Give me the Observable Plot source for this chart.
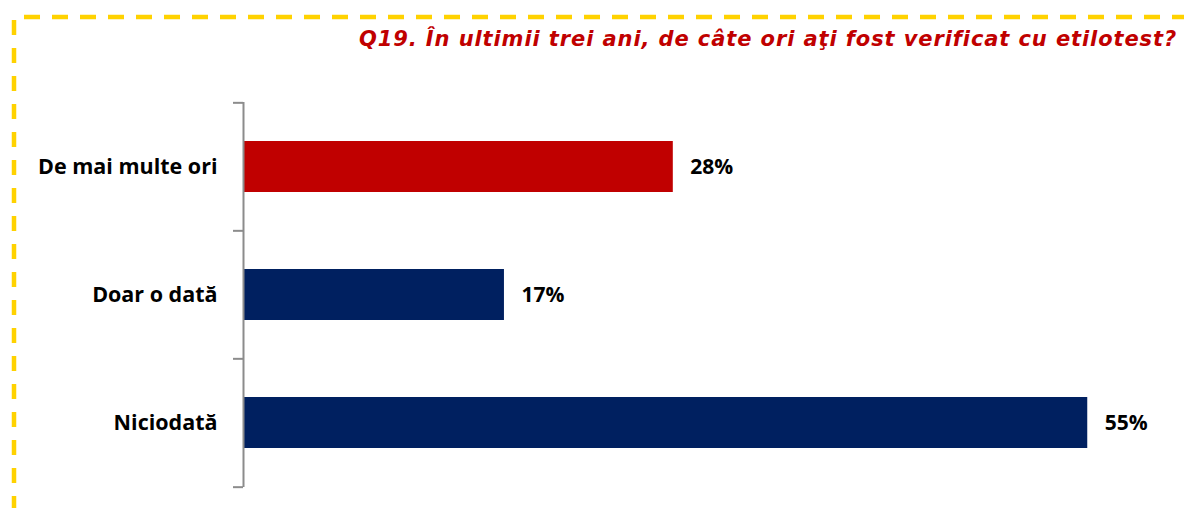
<!DOCTYPE html>
<html>
<head>
<meta charset="utf-8">
<script src="https://cdn.jsdelivr.net/npm/d3@7"></script>
<script src="https://cdn.jsdelivr.net/npm/@observablehq/plot@0.6"></script>
<style>
  html, body { margin: 0; padding: 0; background: #fff; }
  #wrap { position: relative; width: 1184px; height: 508px; overflow: hidden; }
  #title {
    position: absolute; top: 29px; left: 359px; white-space: nowrap; line-height: 1;
    font-family: "DejaVu Sans", sans-serif; font-style: oblique; font-weight: bold;
    font-size: 21px; letter-spacing: 0.9px; color: #C00000;
  }
  #border { position: absolute; left: 0; top: 0; }
</style>
</head>
<body>
<div id="wrap">
  <svg id="border" width="1184" height="508"></svg>
  <div id="chart"></div>
  <div id="title">Q19. În ultimii trei ani, de câte ori aţi fost verificat cu etilotest?</div>
</div>
<script>
const categories = ["De mai multe ori", "Doar o dată", "Niciodată"];
const values = [28, 17, 55];
const barColors = ["#C00000", "#002060", "#002060"];

const data = categories.map((c, i) => ({cat: c, value: values[i], color: barColors[i]}));

const W = 1184, H = 508, mTop = 102, mBottom = 21, mLeft = 243, mRight = 20;
const step = (H - mTop - mBottom) / categories.length;

const plot = Plot.plot({
  width: W, height: H,
  marginTop: mTop, marginBottom: mBottom, marginLeft: mLeft, marginRight: mRight,
  style: {fontFamily: "'Open Sans', sans-serif", color: "#000", background: "transparent"},
  x: {domain: [0, 60], axis: null},
  y: {domain: categories, paddingInner: 0.6, paddingOuter: 0.3, axis: null, label: null},
  marks: [
    Plot.barX(data, {x: "value", y: "cat", fill: "color"}),
    Plot.ruleX([0], {stroke: "#8c8c8c", strokeWidth: 2}),
    Plot.axisY({tickSize: 10, text: null, label: null, stroke: "#8c8c8c", strokeWidth: 2, dy: -step / 2}),
    Plot.axisY({ticks: [categories[categories.length - 1]], tickSize: 10, text: null, label: null, stroke: "#8c8c8c", strokeWidth: 2, dy: step / 2}),
    Plot.axisY({tickSize: 0, tickPadding: 26, label: null, fontSize: 21.5, fontWeight: "bold", fill: "#000"}),
    Plot.text(data, {x: "value", y: "cat", text: d => d.value + "%", dx: 17, textAnchor: "start", fontSize: 21, fontWeight: "bold", fill: "#000"})
  ]
});
document.getElementById("chart").appendChild(plot);

// dashed frame
const b = d3.select("#border");
b.append("line").attr("x1", 24).attr("y1", 17).attr("x2", W).attr("y2", 17)
  .attr("stroke", "#FFD200").attr("stroke-width", 4.5).attr("stroke-dasharray", "16 12");
b.append("line").attr("x1", 14).attr("y1", 20).attr("x2", 14).attr("y2", H)
  .attr("stroke", "#FFD200").attr("stroke-width", 4.5).attr("stroke-dasharray", "15 13");
</script>
</body>
</html>
